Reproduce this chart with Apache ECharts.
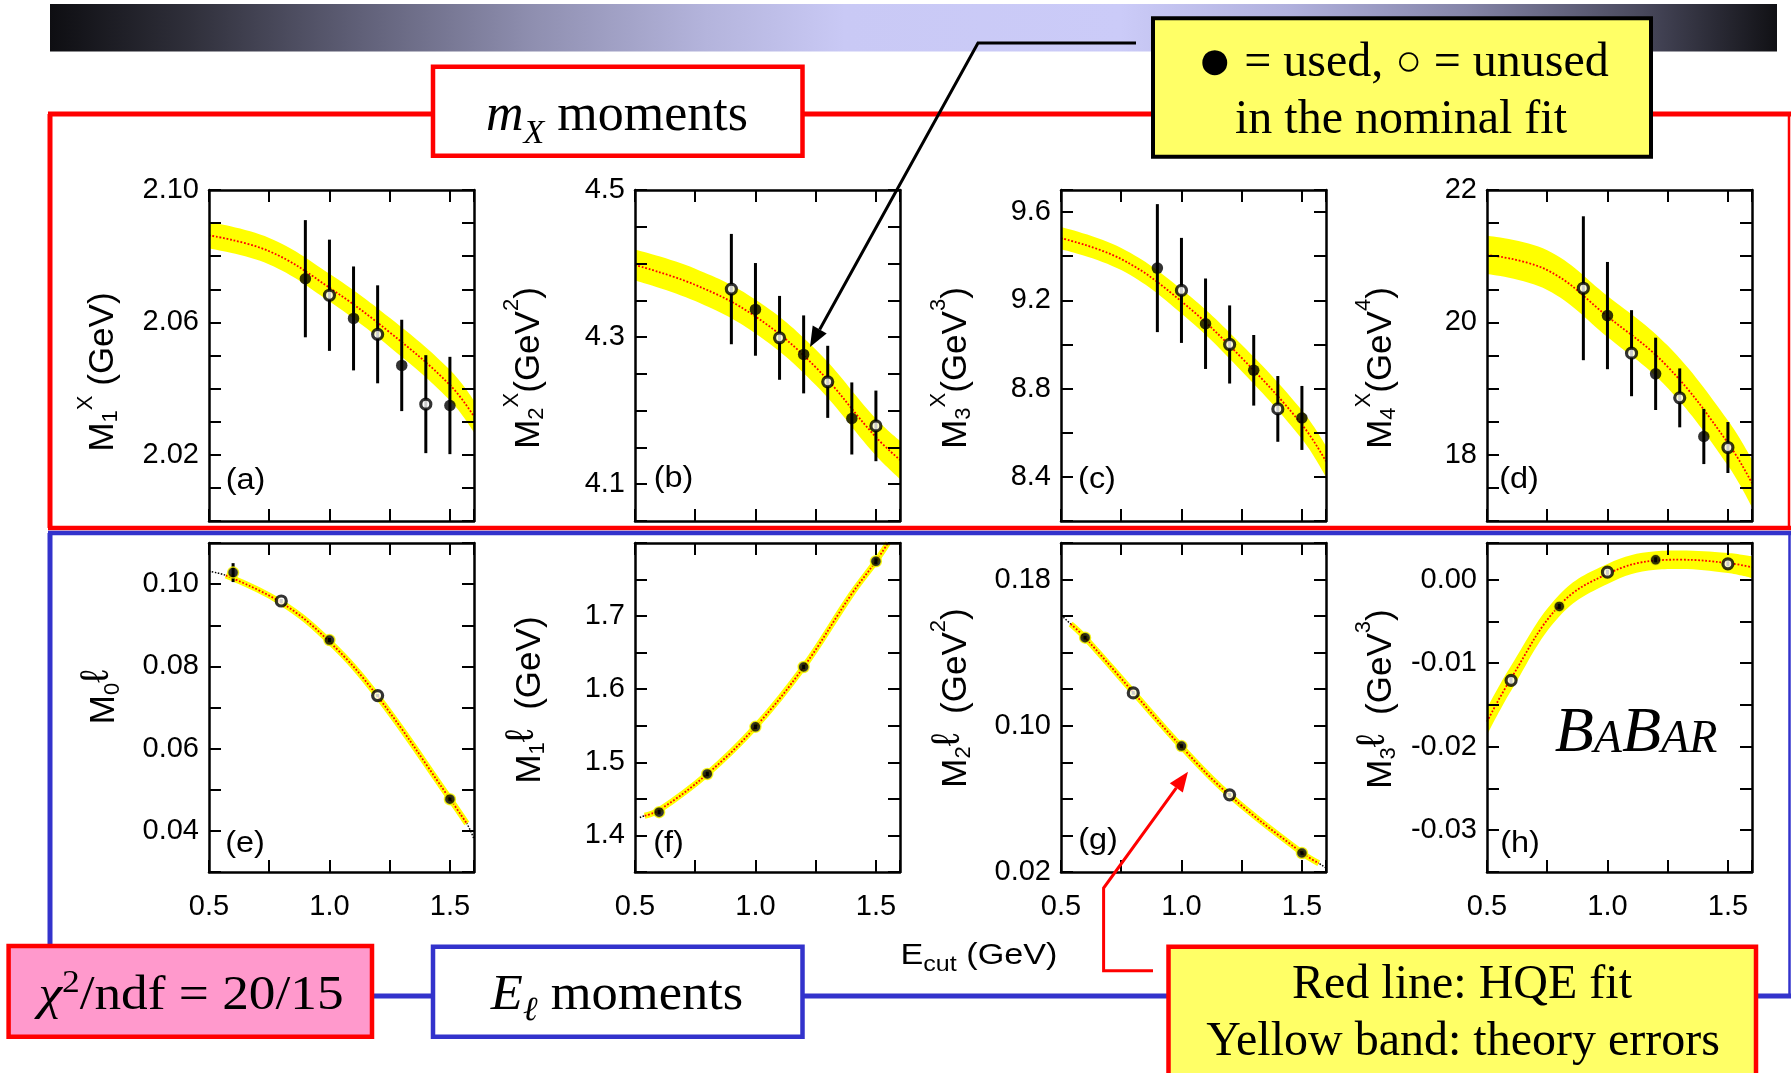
<!DOCTYPE html>
<html><head><meta charset="utf-8">
<script src="https://cdn.jsdelivr.net/npm/echarts@6/dist/echarts.min.js"></script>
<style>html,body{margin:0;padding:0;background:#fff}#c{width:1792px;height:1073px}</style>
</head><body><div id="c"></div>
<script>
// ================= DATA =================
// E_cut values (GeV)
const mxCut = [0.9, 1.0, 1.1, 1.2, 1.3, 1.4, 1.5];
const elCut = [0.6, 0.8, 1.0, 1.2, 1.5];
const xTickLabels = [0.5, 1.0, 1.5];

// (a) M1X (GeV)
const aVal = [2.0732, 2.0682, 2.0612, 2.0564, 2.0470, 2.0353, 2.0349];
const aErr = [0.0177, 0.0168, 0.0157, 0.0148, 0.0138, 0.0148, 0.0147];
const aUsed = [1, 0, 1, 0, 1, 0, 1];
const aFitX = [0.5, 0.75, 1.0, 1.25, 1.5, 1.6];
const aFit = [2.0863, 2.0815, 2.0705, 2.0570, 2.0411, 2.0316];
const aBand = [0.0040, 0.0040, 0.0042, 0.0044, 0.0046, 0.0048];
const aTicks = [2.02, 2.06, 2.10];

// (b) M2X (GeV^2)
const bVal = [4.3653, 4.3377, 4.2990, 4.2765, 4.2392, 4.1894, 4.1793];
const bErr = [0.075, 0.063, 0.057, 0.053, 0.049, 0.049, 0.048];
const bUsed = [0, 1, 0, 1, 0, 1, 0];
const bFitX = [0.5, 0.75, 1.0, 1.25, 1.5, 1.6];
const bFit = [4.398, 4.371, 4.328, 4.259, 4.164, 4.133];
const bBand = [0.021, 0.022, 0.023, 0.024, 0.025, 0.026];
const bTicks = [4.1, 4.3, 4.5];

// (c) M3X (GeV^3)
const cVal = [9.346, 9.245, 9.094, 9.000, 8.883, 8.708, 8.667];
const cErr = [0.29, 0.238, 0.205, 0.177, 0.16, 0.149, 0.145];
const cUsed = [1, 0, 1, 0, 1, 0, 1];
const cFitX = [0.5, 0.75, 1.0, 1.25, 1.5, 1.6];
const cFit = [9.482, 9.387, 9.195, 8.939, 8.637, 8.470];
const cBand = [0.05, 0.05, 0.055, 0.06, 0.065, 0.07];
const cTicks = [8.4, 8.8, 9.2, 9.6];

// (d) M4X (GeV^4)
const dVal = [20.516, 20.103, 19.535, 19.223, 18.86, 18.277, 18.11];
const dErr = [1.087, 0.81, 0.65, 0.546, 0.445, 0.417, 0.385];
const dUsed = [0, 1, 0, 1, 0, 1, 0];
const dFitX = [0.5, 0.75, 1.0, 1.25, 1.5, 1.6];
const dFit = [21.02, 20.79, 20.09, 19.33, 18.18, 17.57];
const dBand = [0.29, 0.30, 0.31, 0.32, 0.34, 0.36];
const dTicks = [18, 20, 22];

// (e) M0 lepton
const eVal = [0.1028, 0.0959, 0.0864, 0.0729, 0.0477];
const eErr = [0.0023, 0.0005, 0.0005, 0.0004, 0.0004];
const eUsed = [1, 0, 1, 0, 1];
const eFitX = [0.5, 0.57, 0.8, 1.0, 1.2, 1.5, 1.57, 1.6];
const eFit = [0.1031, 0.1021, 0.0955, 0.0860, 0.0727, 0.0478, 0.0418, 0.0380];
const eFitRange = [0.57, 1.57];
const eTicks = [0.04, 0.06, 0.08, 0.10];

// (f) M1 lepton (GeV)
const fVal = [1.4318, 1.4841, 1.5486, 1.6304, 1.7750];
const fErr = [0.003, 0.003, 0.003, 0.003, 0.004];
const fUsed = [1, 1, 1, 1, 1];
const fFitX = [0.52, 0.54, 0.6, 0.8, 1.0, 1.2, 1.4, 1.5, 1.55];
const fFit = [1.4245, 1.4270, 1.4345, 1.4841, 1.5486, 1.6304, 1.7306, 1.7750, 1.8000];
const fFitRange = [0.54, 1.55];
const fTicks = [1.4, 1.5, 1.6, 1.7];

// (g) M2 lepton (GeV^2)
const gVal = [0.1482, 0.1180, 0.0889, 0.0622, 0.0304];
const gErr = [0.001, 0.001, 0.001, 0.001, 0.001];
const gUsed = [1, 0, 1, 0, 1];
const gFitX = [0.51, 0.54, 0.6, 0.8, 1.0, 1.2, 1.5, 1.57, 1.6];
const gFit = [0.1594, 0.1557, 0.1482, 0.1183, 0.0885, 0.0620, 0.0305, 0.0248, 0.0222];
const gFitRange = [0.54, 1.57];
const gTicks = [0.02, 0.10, 0.18];

// (h) M3 lepton (GeV^3)
const hVal = [-0.01205, -0.00319, 0.00091, 0.00239, 0.00191];
const hErr = [0.0004, 0.0003, 0.0003, 0.0003, 0.0003];
const hUsed = [0, 1, 0, 1, 0];
const hFitX = [0.5, 0.6, 0.8, 1.0, 1.2, 1.3, 1.5, 1.6];
const hFit = [-0.0170, -0.0118, -0.0031, 0.0007, 0.0023, 0.0024, 0.0020, 0.0015];
const hBand = [0.0016, 0.0015, 0.0013, 0.0012, 0.0011, 0.0011, 0.0012, 0.0013];
const hTicks = [0.00, -0.01, -0.02, -0.03];

// ================= CONFIG =================
const SANS = '"Liberation Sans", Arial, Helvetica, sans-serif';
const SERIF = '"Liberation Serif", "Times New Roman", serif';
const SMOOTH = 0.4;

const P = [
  {x: mxCut, v: aVal, e: aErr, u: aUsed, fx: aFitX, fy: aFit, band: aBand, yr: [2.00, 2.10, 0.01], lab: aTicks, dec: 2},
  {x: mxCut, v: bVal, e: bErr, u: bUsed, fx: bFitX, fy: bFit, band: bBand, yr: [4.05, 4.5, 0.05], lab: bTicks, dec: 1},
  {x: mxCut, v: cVal, e: cErr, u: cUsed, fx: cFitX, fy: cFit, band: cBand, yr: [8.2, 9.7, 0.2], lab: cTicks, dec: 1},
  {x: mxCut, v: dVal, e: dErr, u: dUsed, fx: dFitX, fy: dFit, band: dBand, yr: [17, 22, 0.5], lab: dTicks, dec: 0},
  {x: elCut, v: eVal, e: eErr, u: eUsed, fx: eFitX, fy: eFit, thin: eFitRange, yr: [0.03, 0.11, 0.01], lab: eTicks, dec: 2},
  {x: elCut, v: fVal, e: fErr, u: fUsed, fx: fFitX, fy: fFit, thin: fFitRange, yr: [1.35, 1.8, 0.05], lab: fTicks, dec: 1},
  {x: elCut, v: gVal, e: gErr, u: gUsed, fx: gFitX, fy: gFit, thin: gFitRange, yr: [0.02, 0.2, 0.02], lab: gTicks, dec: 2},
  {x: elCut, v: hVal, e: hErr, u: hUsed, fx: hFitX, fy: hFit, band: hBand, yr: [-0.035, 0.0044, 0.005], lab: hTicks, dec: 2}
];

const colL = [209, 635, 1061, 1487];
const rowT = [190, 543];
const rowH = [331, 329];

const grids = [], xAxes = [], yAxes = [], series = [];

P.forEach((p, i) => {
  const row = i < 4 ? 0 : 1, col = i % 4;
  grids.push({left: colL[col], top: rowT[row], width: 265, height: rowH[row]});
  const common = {
    type: 'value', gridIndex: i, splitLine: {show: false}, z: 10,
    axisLine: {show: true, onZero: false, lineStyle: {color: '#000', width: 2.5}},
    axisTick: {show: true, inside: true, length: 12, lineStyle: {color: '#000', width: 2}}
  };
  const xl = {
    show: row === 1, fontSize: 29, color: '#000', fontFamily: SANS, margin: 20,
    formatter: v => xTickLabels.some(t => Math.abs(t - v) < 1e-9) ? v.toFixed(1) : ''
  };
  xAxes.push(Object.assign({}, common, {position: 'bottom', min: 0.5, max: 1.6, interval: 0.25, axisLabel: xl}));
  xAxes.push(Object.assign({}, common, {position: 'top', min: 0.5, max: 1.6, interval: 0.25, axisLabel: {show: false}}));
  const yl = {
    show: true, fontSize: 29, color: '#000', fontFamily: SANS, margin: 10,
    formatter: v => {
      const tol = p.yr[2] * 1e-6;
      if (!p.lab.some(t => Math.abs(t - v) < tol)) return '';
      if (Math.abs(v) < tol) v = 0;
      return v.toFixed(p.dec);
    }
  };
  yAxes.push(Object.assign({}, common, {position: 'left', min: p.yr[0], max: p.yr[1], interval: p.yr[2], axisLabel: yl}));
  yAxes.push(Object.assign({}, common, {position: 'right', min: p.yr[0], max: p.yr[1], interval: p.yr[2], axisLabel: {show: false}}));

  const ax = {xAxisIndex: 2 * i, yAxisIndex: 2 * i};
  const fit = p.fx.map((x, k) => [x, p.fy[k]]);
  if (p.band) {
    // yellow fill below the upper edge, then white fill below the lower edge -> band between
    series.push(Object.assign({type: 'line', data: p.fx.map((x, k) => [x, p.fy[k] + p.band[k]]),
      symbol: 'none', smooth: SMOOTH, lineStyle: {opacity: 0},
      areaStyle: {color: '#ffff00', opacity: 1, origin: 'start'}, silent: true, z: 1}, ax));
    series.push(Object.assign({type: 'line', data: p.fx.map((x, k) => [x, p.fy[k] - p.band[k]]),
      symbol: 'none', smooth: SMOOTH, lineStyle: {opacity: 0},
      areaStyle: {color: '#ffffff', opacity: 1, origin: 'start'}, silent: true, z: 1.5}, ax));
    series.push(Object.assign({type: 'line', data: fit, symbol: 'none', smooth: SMOOTH,
      lineStyle: {color: '#ff0000', width: 1.8, type: 'dotted'}, silent: true, z: 2}, ax));
  } else {
    const inner = fit.filter(d => d[0] >= p.thin[0] - 1e-9 && d[0] <= p.thin[1] + 1e-9);
    series.push(Object.assign({type: 'line', data: fit, symbol: 'none', smooth: SMOOTH,
      lineStyle: {color: '#000', width: 1.5, type: 'dotted'}, silent: true, z: 1}, ax));
    series.push(Object.assign({type: 'line', data: inner, symbol: 'none', smooth: SMOOTH,
      lineStyle: {color: '#ffff00', width: 6}, silent: true, z: 1.5}, ax));
    series.push(Object.assign({type: 'line', data: inner, symbol: 'none', smooth: SMOOTH,
      lineStyle: {color: '#ff0000', width: 1.8, type: 'dotted'}, silent: true, z: 2}, ax));
  }
  // error bars
  series.push(Object.assign({
    type: 'custom', silent: true, z: 3,
    data: p.x.map((x, k) => [x, p.v[k] - p.e[k], p.v[k] + p.e[k]]),
    renderItem: (params, api) => {
      const a = api.coord([api.value(0), api.value(1)]);
      const b = api.coord([api.value(0), api.value(2)]);
      return {type: 'line', shape: {x1: a[0], y1: a[1], x2: b[0], y2: b[1]}, style: {stroke: '#000', lineWidth: 3}};
    }
  }, ax));
  const used = p.x.map((x, k) => [x, p.v[k], p.u[k]]).filter(d => d[2] === 1).map(d => [d[0], d[1]]);
  const unused = p.x.map((x, k) => [x, p.v[k], p.u[k]]).filter(d => d[2] === 0).map(d => [d[0], d[1]]);
  series.push(Object.assign({type: 'scatter', data: used, symbol: 'circle', symbolSize: row === 1 ? 11 : 11.5, silent: true, z: 4,
    itemStyle: row === 1 ? {color: '#000', borderColor: '#ffff00', borderWidth: 1.5} : {color: '#000'}}, ax));
  series.push(Object.assign({type: 'scatter', data: unused, symbol: 'circle', symbolSize: 10, silent: true, z: 4,
    itemStyle: {color: '#fff', borderColor: '#000', borderWidth: 3.2}}, ax));
});

// ================= ANNOTATIONS =================
const G = [];
function line(x1, y1, x2, y2, color, w) {
  G.push({type: 'line', z: 30, silent: true, shape: {x1, y1, x2, y2}, style: {stroke: color, lineWidth: w}});
}
function box(x, y, w, h, fill, stroke, lw) {
  G.push({type: 'rect', z: 40, silent: true, shape: {x, y, width: w, height: h}, style: {fill, stroke, lineWidth: lw}});
}
function text(x, y, t, rich, extra) {
  const el = {type: 'text', x, y, z: 60, silent: true,
    style: Object.assign({text: t, align: 'center', verticalAlign: 'middle', fill: '#000'}, rich ? {rich} : {})};
  if (extra) {
    if (extra.style) Object.assign(el.style, extra.style);
    if (extra.rotation) el.rotation = extra.rotation;
    if (extra.scaleX) el.scaleX = extra.scaleX;
  }
  G.push(el);
}

// gradient title bar
G.push({type: 'rect', z: 5, silent: true, shape: {x: 50, y: 4, width: 1727, height: 47.5},
  style: {fill: {type: 'linear', x: 0, y: 0, x2: 1, y2: 0, colorStops: [
    {offset: 0, color: '#0e0e12'}, {offset: 0.08, color: '#2f2f3a'}, {offset: 0.18, color: '#606078'},
    {offset: 0.28, color: '#8f8fb0'}, {offset: 0.38, color: '#b4b4dc'}, {offset: 0.46, color: '#c9c9f5'},
    {offset: 0.62, color: '#cbcbf8'}, {offset: 0.72, color: '#b0b0dc'}, {offset: 0.82, color: '#8585a8'},
    {offset: 0.92, color: '#4a4a5e'}, {offset: 1, color: '#111115'}]}}});

// frames
const RED = '#ff0000', BLUE = '#3333cc';
line(48, 114, 1791, 114, RED, 5);
line(50, 114, 50, 528, RED, 5);
line(1789, 114, 1789, 528, RED, 2.5);
line(48, 528, 1791, 528, RED, 4.5);
line(48, 533, 1791, 533, BLUE, 4.5);
line(50, 533, 50, 946, BLUE, 5);
line(1789.5, 533, 1789.5, 996, BLUE, 2.5);
line(372, 996, 1791, 996, BLUE, 5);

// boxes
box(433, 66.7, 369.5, 89, '#ffffff', RED, 4.5);
box(1153, 18.3, 498, 138.4, '#ffff66', '#000000', 4);
box(8.6, 946, 363.4, 90.7, '#ff99cc', RED, 4.5);
box(433, 946.7, 369.5, 90, '#ffffff', BLUE, 4.5);
box(1168.5, 946.7, 587.5, 140, '#ffff66', RED, 4.5);

// box texts
text(617, 116, '{i|m}{isb|X}{r| moments}', {
  i: {fontSize: 52, fontFamily: SERIF, fontStyle: 'italic', fill: '#000'},
  isb: {fontSize: 34, fontFamily: SERIF, fontStyle: 'italic', verticalAlign: 'bottom', fill: '#000'},
  r: {fontSize: 52, fontFamily: SERIF, lineHeight: 70, fill: '#000'}
});
text(1403, 63.4, '{d|●}{t| = used, }{o|○}{t| = unused}', {
  d: {fontSize: 58, fontFamily: SERIF, fill: '#000'},
  o: {fontSize: 44, fontFamily: SERIF, fill: '#000'},
  t: {fontSize: 48, fontFamily: SERIF, lineHeight: 58, fill: '#000'}
});
text(1401, 120.4, 'in the nominal fit', null, {style: {fontSize: 48, fontFamily: SERIF}});
text(191, 996.4, '{ci|χ}{sp|2}{t|/ndf = 20/15}', {
  ci: {fontSize: 48, fontFamily: SERIF, fontStyle: 'italic', fill: '#000'},
  sp: {fontSize: 32, fontFamily: SERIF, verticalAlign: 'top', fill: '#000'},
  t: {fontSize: 48, fontFamily: SERIF, lineHeight: 58, fill: '#000'}
}, {scaleX: 1.11});
text(617, 995.7, '{ei|E}{lsb|ℓ}{t| moments}', {
  ei: {fontSize: 50, fontFamily: SERIF, fontStyle: 'italic', fill: '#000'},
  lsb: {fontSize: 34, fontFamily: SERIF, fontStyle: 'italic', verticalAlign: 'bottom', fill: '#000'},
  t: {fontSize: 50, fontFamily: SERIF, lineHeight: 64, fill: '#000'}
}, {scaleX: 1.05});
text(1462, 985.4, 'Red line: HQE fit', null, {style: {fontSize: 48, fontFamily: SERIF}});
text(1463, 1042, 'Yellow band: theory errors', null, {style: {fontSize: 48, fontFamily: SERIF}});

// arrows
G.push({type: 'polyline', z: 50, silent: true, shape: {points: [[1136, 43], [978, 43], [819.7, 329.5]]},
  style: {stroke: '#000', lineWidth: 3, fill: null}});
G.push({type: 'polygon', z: 50, silent: true, shape: {points: [[810, 347], [826.7, 333.4], [812.7, 325.6]]},
  style: {fill: '#000'}});
G.push({type: 'polyline', z: 50, silent: true, shape: {points: [[1153, 970.7], [1103.6, 970.7], [1103.6, 888], [1176.3, 787.9]]},
  style: {stroke: RED, lineWidth: 3, fill: null}});
G.push({type: 'polygon', z: 50, silent: true, shape: {points: [[1188, 771.7], [1182.8, 792.6], [1169.8, 783.2]]},
  style: {fill: RED}});

// axis titles
const axRich = {
  m: {fontSize: 35, fontFamily: SANS, lineHeight: 56, fill: '#000'},
  sb: {fontSize: 22, fontFamily: SANS, verticalAlign: 'bottom', padding: [0, 0, 9, 0], fill: '#000'},
  sp: {fontSize: 22, fontFamily: SANS, verticalAlign: 'top', fill: '#000'},
  l: {fontSize: 40, fontFamily: SANS, verticalAlign: 'top', fill: '#000'}
};
const ROT = {rotation: Math.PI / 2};
text(103.4, 372, '{m|M}{sb|1}{sp|X}{m| (GeV)}', axRich, ROT);
text(529, 368, '{m|M}{sb|2}{sp|X}{m|(GeV}{sp|2}{m|)}', axRich, ROT);
text(956, 368, '{m|M}{sb|3}{sp|X}{m|(GeV}{sp|3}{m|)}', axRich, ROT);
text(1381, 368, '{m|M}{sb|4}{sp|X}{m|(GeV}{sp|4}{m|)}', axRich, ROT);
text(104.5, 697, '{m|M}{sb|0}{l|ℓ}', axRich, ROT);
text(530, 700, '{m|M}{sb|1}{l|ℓ}{m|  (GeV)}', axRich, ROT);
text(956, 698, '{m|M}{sb|2}{l|ℓ}{m|  (GeV}{sp|2}{m|)}', axRich, ROT);
text(1381, 699, '{m|M}{sb|3}{l|ℓ}{m|  (GeV}{sp|3}{m|)}', axRich, ROT);

// x axis title
text(979, 955.4, '{e|E}{sb|cut}{e| (GeV)}', {
  e: {fontSize: 30, fontFamily: SANS, lineHeight: 44, fill: '#000'},
  sb: {fontSize: 22, fontFamily: SANS, verticalAlign: 'bottom', padding: [0, 0, 1, 0], fill: '#000'}
}, {scaleX: 1.14});

// panel letters
const letterPos = [[245.5, 481, '(a)'], [673.5, 479, '(b)'], [1097, 480, '(c)'], [1519, 480, '(d)'],
  [245, 844, '(e)'], [668.5, 844, '(f)'], [1098, 841, '(g)'], [1520, 844, '(h)']];
letterPos.forEach(l => text(l[0], l[1], l[2], null, {style: {fontSize: 29, fontFamily: SANS}, scaleX: 1.12}));

// BABAR logo
text(1636, 733.8, '{b|B}{s|A}{b|B}{s|AR}', {
  b: {fontSize: 64, fontFamily: SERIF, fontStyle: 'italic', lineHeight: 70, fill: '#000'},
  s: {fontSize: 46, fontFamily: SERIF, fontStyle: 'italic', verticalAlign: 'bottom', padding: [0, 0, 6, 0], fill: '#000'}
});

const chart = echarts.init(document.getElementById('c'), null, {renderer: 'canvas'});
chart.setOption({
  animation: false,
  backgroundColor: '#ffffff',
  textStyle: {fontFamily: SANS},
  grid: grids,
  xAxis: xAxes,
  yAxis: yAxes,
  series: series,
  graphic: {elements: G}
});
</script>
</body></html>
